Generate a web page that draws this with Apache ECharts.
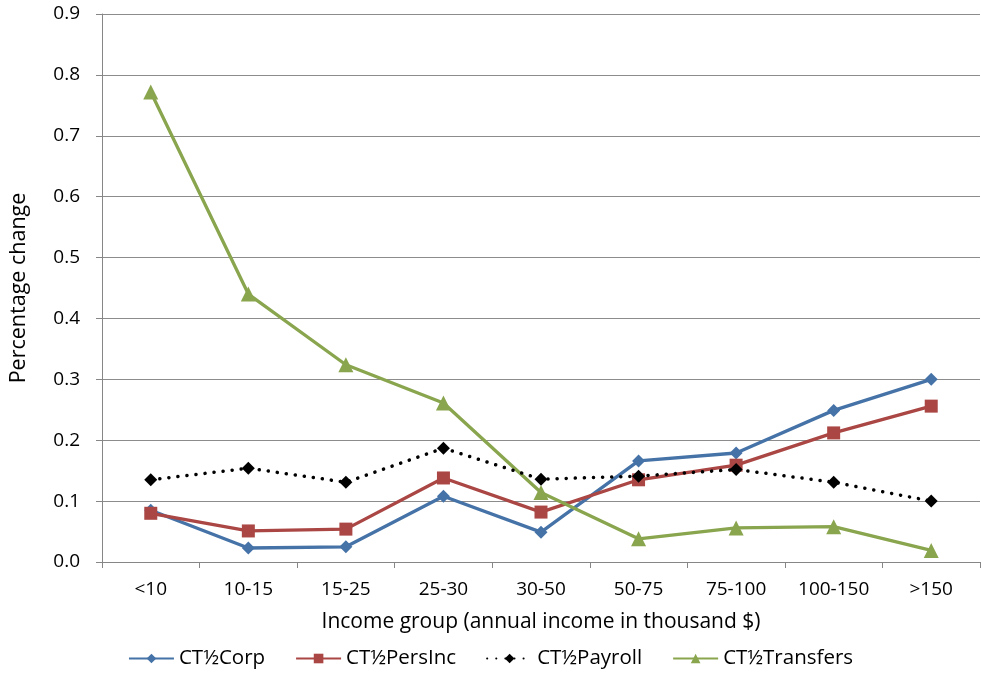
<!DOCTYPE html>
<html><head><meta charset="utf-8">
<script src="https://cdn.jsdelivr.net/npm/echarts@6/dist/echarts.min.js"></script>
<style>html,body{margin:0;padding:0;background:#fff}#c{width:981px;height:674px}</style>
</head><body><div id="c"></div>
<script>
var categories = ['<10','10-15','15-25','25-30','30-50','50-75','75-100','100-150','>150'];
var corp      = [0.085,0.023,0.025,0.108,0.049,0.166,0.179,0.249,0.300];
var persInc   = [0.080,0.051,0.054,0.138,0.082,0.135,0.159,0.212,0.256];
var payroll   = [0.135,0.154,0.131,0.187,0.136,0.141,0.152,0.131,0.100];
var transfers = [0.772,0.440,0.324,0.261,0.114,0.038,0.056,0.058,0.019];
var yTicks = [0,0.1,0.2,0.3,0.4,0.5,0.6,0.7,0.8,0.9];

var FONT = '"Open Sans", sans-serif';
var chart = echarts.init(document.getElementById('c'), null, {renderer:'canvas'});
function mk(name, data, color, symbol, size, dotted){
  return {name:name, type:'line', data:data, symbol:symbol, symbolSize:size,
    showAllSymbol:true, z: dotted?3:2,
    itemStyle:{color:color}, lineStyle:{color:color, width: dotted?3.5:3.3, type: dotted?[0.1,9]:'solid', cap: dotted?'round':'butt'},
    emphasis:{disabled:true}, animation:false};
}
chart.setOption({
  animation:false,
  textStyle:{fontFamily:FONT},
  grid:{left:102, right:1, top:14, bottom:112, containLabel:false, outerBoundsMode:'none'},
  xAxis:{type:'category', data:categories, boundaryGap:true,
    axisLine:{lineStyle:{color:'#868686', width:1}},
    axisTick:{show:true, length:6, lineStyle:{color:'#868686'}},
    axisLabel:{color:'#000', fontSize:19, margin:18, fontFamily:FONT},
    name:'Income group (annual income in thousand $)', nameLocation:'middle', nameGap:50,
    nameTextStyle:{color:'#000', fontSize:21, fontFamily:FONT}},
  yAxis:{type:'value', min:0, max:0.9, interval:0.1,
    axisLine:{show:true, lineStyle:{color:'#868686'}},
    axisTick:{show:true, length:6, lineStyle:{color:'#868686'}},
    splitLine:{lineStyle:{color:'#8c8c8c', width:1}},
    axisLabel:{color:'#000', fontSize:19, margin:22, fontFamily:FONT,
      formatter:function(v){return v.toFixed(1);}},
    name:'Percentage change', nameLocation:'middle', nameGap:72, nameRotate:90,
    nameTextStyle:{color:'#000', fontSize:21.5, fontFamily:FONT}},
  legend:{bottom:0, left:'center', itemWidth:45, itemHeight:12, itemGap:30,
    textStyle:{color:'#000', fontSize:20.5, fontFamily:FONT},
    data:['CT½Corp','CT½PersInc','CT½Payroll','CT½Transfers']},
  series:[
    mk('CT½Corp', corp, '#4572A7', 'diamond', 13, false),
    mk('CT½PersInc', persInc, '#AA4643', 'rect', 13, false),
    mk('CT½Payroll', payroll, '#000000', 'diamond', 13, true),
    mk('CT½Transfers', transfers, '#89A54E', 'triangle', 15, false)
  ]
});
</script></body></html>
